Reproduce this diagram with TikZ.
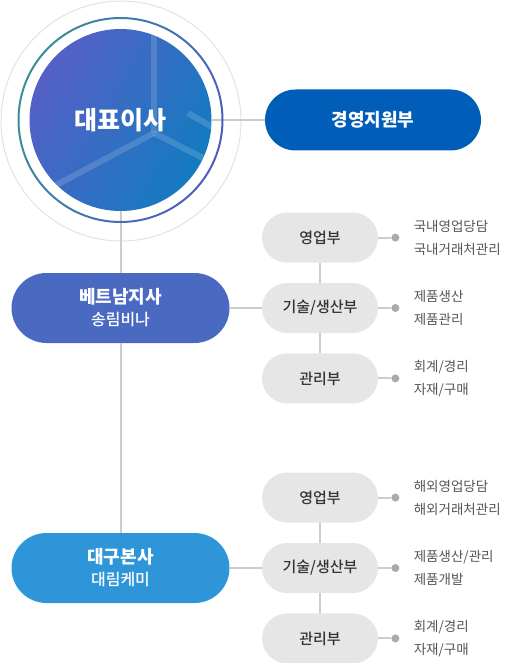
\documentclass[tikz,border=0pt]{standalone}
\usepackage{fontspec}
\setmainfont{Noto Sans CJK KR}
\newfontfamily\mediumKR{Noto Sans CJK KR Medium}
\usetikzlibrary{positioning, calc}

\definecolor{haloGray}{HTML}{E2E2E2}
\definecolor{ringTeal}{HTML}{3A8E9A}
\definecolor{ringBlue}{HTML}{4A5EC0}
\definecolor{ceoLeft}{HTML}{5560C6}
\definecolor{ceoRight}{HTML}{137BC0}
\definecolor{supportBlue}{HTML}{005EB8}
\definecolor{vietnamBlue}{HTML}{4A69C1}
\definecolor{daeguBlue}{HTML}{2E96D8}
\definecolor{deptGray}{HTML}{E6E6E6}
\definecolor{linkGray}{HTML}{CCCCCC}
\definecolor{dotGray}{HTML}{AAAAAA}
\definecolor{deptInk}{HTML}{333333}
\definecolor{taskInk}{HTML}{555555}

\tikzset{
    pill/.style={rectangle, rounded corners=35pt, minimum width=218pt, minimum height=70pt, inner sep=0pt, text=white, align=center, font=\mediumKR\fontsize{16}{22}\selectfont},
    deptPill/.style={rectangle, rounded corners=25pt, fill=deptGray, minimum width=116pt, minimum height=50pt, inner sep=0pt, text=deptInk, font=\mediumKR\fontsize{15}{18}\selectfont},
    link/.style={draw=linkGray, line width=2pt},
    taskDot/.style={circle, fill=dotGray, inner sep=0pt, minimum size=8pt},
    taskText/.style={anchor=west, align=left, inner sep=0pt, text=taskInk, font=\fontsize{13.5}{23}\selectfont},
    yArm/.style={draw=white, draw opacity=0.15, line width=6pt},
}
\newcommand{\drawTasks}[3]{
    \node[taskDot, right=13pt of #1] (#1Dot) {};
    \draw[link] (#1) -- (#1Dot);
    \node[taskText, right=14pt of #1Dot] (#1Text) {#2\\#3};
}

\begin{document}
\begin{tikzpicture}[x=1pt, y=-1pt]
    \useasboundingbox (0,0) rectangle (506,663);

    \node[circle, draw=haloGray, line width=1pt, minimum size=240pt, inner sep=0pt] (halo) at (121,121) {};
    \node[circle, minimum size=182pt, inner sep=0pt, left color=ceoLeft, right color=ceoRight, shading angle=60] (ceo) at (120.5,120) {};
    \begin{scope}
        \clip (ceo.center) circle (91pt);
        \draw[yArm] (154,133) -- (154,0);
        \draw[yArm] (154,133) -- (0,215);
        \draw[yArm] (154,133) -- (262,188);
        \draw[yArm] (188,113) -- (260,155);
    \end{scope}

    \node[pill, fill=supportBlue, minimum width=216pt, minimum height=61pt, rounded corners=30.5pt, font=\bfseries\fontsize{18}{22}\selectfont] (support) at (373,120) {경영지원부};
    \node[pill, fill=vietnamBlue] (vietnam) at (120.5,308) {{\bfseries\fontsize{18}{22}\selectfont 베트남지사}\\송림비나};
    \node[pill, fill=daeguBlue] (daegu) at (120.5,568) {{\bfseries\fontsize{18}{22}\selectfont 대구본사}\\대림케미};

    \node[deptPill] (vnTech) at (320,308) {기술/생산부};
    \node[deptPill, above=20pt of vnTech] (vnSales) {영업부};
    \node[deptPill, below=20pt of vnTech] (vnAdmin) {관리부};
    \node[deptPill] (dgTech) at (320,568) {기술/생산부};
    \node[deptPill, above=20pt of dgTech] (dgSales) {영업부};
    \node[deptPill, below=20pt of dgTech] (dgAdmin) {관리부};

    \draw[link] (ceo) -- (support);
    \draw[link] (ceo) -- (vietnam);
    \draw[link] (vietnam) -- (daegu);
    \draw[link] (vietnam) -- (vnTech);
    \draw[link] (daegu) -- (dgTech);
    \draw[link] (vnSales) -- (vnTech) -- (vnAdmin);
    \draw[link] (dgSales) -- (dgTech) -- (dgAdmin);

    \shade[even odd rule, left color=ringTeal, right color=ringBlue, shading angle=70] (ceo.center) circle (101pt) circle (103pt);
    \node[text=white, font=\bfseries\fontsize{25}{30}\selectfont] (ceoLabel) at (ceo) {대표이사};

    \drawTasks{vnSales}{국내영업당담}{국내거래처관리}
    \drawTasks{vnTech}{제품생산}{제품관리}
    \drawTasks{vnAdmin}{회계/경리}{자재/구매}
    \drawTasks{dgSales}{해외영업당담}{해외거래처관리}
    \drawTasks{dgTech}{제품생산/관리}{제품개발}
    \drawTasks{dgAdmin}{회계/경리}{자재/구매}
\end{tikzpicture}
\end{document}
